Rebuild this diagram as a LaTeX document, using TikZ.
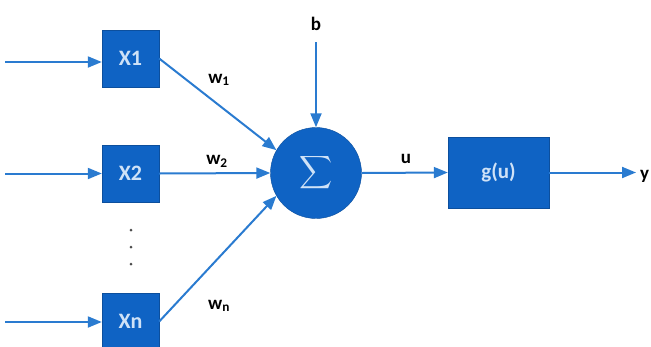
\documentclass[tikz,border=0pt]{standalone}
\usepackage{fontspec}
\setmainfont{Carlito}
\usetikzlibrary{arrows.meta}
\definecolor{boxblue}{HTML}{0F63C4}
\definecolor{lineblue}{HTML}{2A7BD0}
\definecolor{txtblue}{HTML}{CFE2F7}
\tikzset{
  inbox/.style={draw=boxblue!80!black, fill=boxblue, minimum width=57pt, minimum height=57pt, inner sep=0pt, text=txtblue, font=\fontsize{22}{24}\selectfont\bfseries},
  gbox/.style={draw=boxblue!80!black, fill=boxblue, minimum width=101pt, minimum height=71pt, inner sep=0pt, text=txtblue, font=\fontsize{21}{24}\selectfont\bfseries},
  sumnode/.style={circle, draw=boxblue!80!black, fill=boxblue, minimum size=91pt, inner sep=0pt, text=txtblue},
  conn/.style={draw=lineblue, line width=2pt, -{Triangle[length=14pt,width=11pt]}},
  lbl/.style={font=\fontsize{19}{22}\selectfont\bfseries, text=black, inner sep=0pt},
  dotn/.style={circle, fill=black!70, minimum size=3pt, inner sep=0pt}
}
\begin{document}
\begin{tikzpicture}[x=1pt,y=-1pt]
\useasboundingbox (0,0) rectangle (651,346);
\node[inbox] (x1) at (130.5,58.5) {X1};
\node[inbox] (x2) at (130.5,173.5) {X2};
\node[inbox] (xn) at (130.5,321.5) {Xn};
\node[sumnode] (s) at (316,173) {};
\node[text=txtblue, inner sep=0pt] (sg) at (s.center) {\scalebox{2.3}{$\displaystyle\sum$}};
\node[gbox] (g) at (498.5,172.5) {g(u)};
\coordinate (i1) at (5,62);
\coordinate (i2) at (5,173.5);
\coordinate (in) at (5,322);
\coordinate (bt) at (316,42);
\coordinate (yo) at (636,172.5);
\node[lbl] (b) at (316,24) {b};
\node[lbl, anchor=west] (y) at (640,176) {y};
\node[lbl] (w1) at (219,80) {w\textsubscript{1}};
\node[lbl] (w2) at (217,161) {w\textsubscript{2}};
\node[lbl] (wn) at (219,306) {w\textsubscript{n}};
\node[lbl] (u) at (406,159) {u};
\node[dotn] (d1) at (131,230) {};
\node[dotn] (d2) at (131,247) {};
\node[dotn] (d3) at (131,264) {};
\draw[conn] (i1) -- (x1.west |- i1);
\draw[conn] (i2) -- (x2.west);
\draw[conn] (in) -- (xn.west |- in);
\draw[conn] (x1.east) -- (s.150);
\draw[conn] (x2.east) -- (s.west);
\draw[conn] (xn.east) -- (s.210);
\draw[conn] (bt) -- (s.north);
\draw[conn] (s.east) -- (g.west);
\draw[conn] (g.east) -- (yo);
\end{tikzpicture}
\end{document}
